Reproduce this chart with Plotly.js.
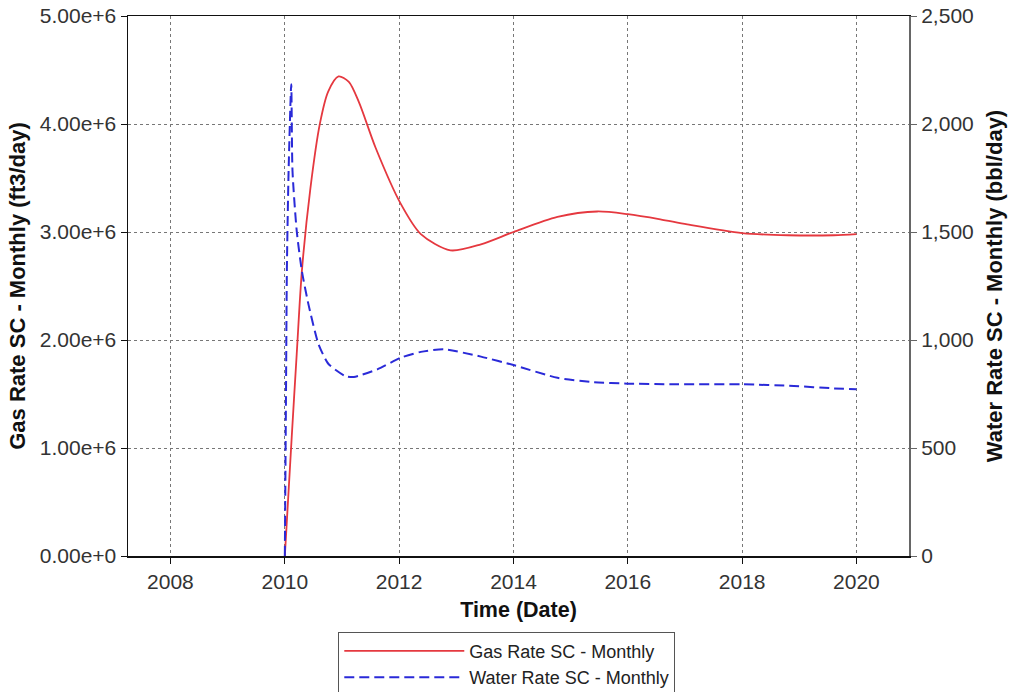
<!DOCTYPE html>
<html>
<head>
<meta charset="utf-8">
<script src="https://cdn.plot.ly/plotly-3.0.1.min.js"></script>
<style>html,body{margin:0;padding:0;background:#fff;}</style>
</head>
<body>
<div id="chart" style="width:1013px;height:692px;"></div>
<script>
const gasDates = ['2010-01-01','2010-02-14','2010-03-18','2010-04-20','2010-06-13','2010-08-14','2010-10-05','2010-12-10','2011-02-14','2011-04-20','2011-08-04','2012-01-12','2012-05-19','2012-11-24','2013-06-07','2014-01-01','2014-10-09','2015-06-20','2016-01-01','2016-07-27','2017-01-15','2018-01-01','2018-10-20','2019-08-11','2020-01-01'];
const gasRate = [0, 1.10e6, 1.87e6, 2.64e6, 3.40e6, 4.01e6, 4.30e6, 4.44e6, 4.39e6, 4.20e6, 3.78e6, 3.26e6, 2.98e6, 2.83e6, 2.886e6, 3.00e6, 3.14e6, 3.19e6, 3.165e6, 3.117e6, 3.07e6, 2.99e6, 2.97e6, 2.97e6, 2.98e6];

const waterDates = ['2010-01-01','2010-01-08','2010-01-14','2010-01-25','2010-02-11','2010-02-19','2010-03-18','2010-04-20','2010-06-01','2010-08-04','2010-10-07','2011-01-23','2011-03-18','2011-08-15','2012-01-12','2012-05-19','2012-10-12','2013-06-07','2014-01-01','2014-10-09','2015-05-27','2016-01-01','2016-10-01','2018-01-01','2018-11-28','2019-08-11','2020-01-01'];
const waterRate = [0, 700, 1320, 1780, 2184, 1782, 1505, 1319, 1165, 981, 889, 833, 829, 864, 918, 945, 957, 923, 884, 825, 805, 798, 795, 795, 787, 776, 772];

const gasName = 'Gas Rate SC - Monthly';
const waterName = 'Water Rate SC - Monthly';
const xTitle = 'Time (Date)';
const yTitle = 'Gas Rate SC - Monthly (ft3/day)';
const y2Title = 'Water Rate SC - Monthly (bbl/day)';

const font = 'Arial, "Liberation Sans", sans-serif';

const traces = [
  {x: gasDates, y: gasRate, name: gasName, type: 'scatter', mode: 'lines',
   line: {color: '#e5383f', width: 1.8, shape: 'spline', smoothing: 0.8}, yaxis: 'y'},
  {x: waterDates, y: waterRate, name: waterName, type: 'scatter', mode: 'lines',
   line: {color: '#2a2ad8', width: 2, dash: '10px,5px', shape: 'spline', smoothing: 0.6}, yaxis: 'y2'}
];

const layout = {
  width: 1013, height: 692,
  margin: {l: 128, r: 104, t: 16, b: 136, autoexpand: false},
  paper_bgcolor: '#fff', plot_bgcolor: '#fff',
  font: {family: font, size: 21, color: '#222'},
  showlegend: true,
  legend: {x: 0.485, xanchor: 'center', y: -0.14, yanchor: 'top',
           bordercolor: '#555', borderwidth: 1, font: {size: 18, color: '#222'},
           tracegroupgap: 0, itemwidth: 120},
  xaxis: {
    type: 'date', range: ['2007-04-05', '2020-12-02'],
    tick0: '2008-01-01', dtick: 'M24', tickformat: '%Y', tickangle: 0,
    showline: true, linecolor: '#111', linewidth: 1.5, mirror: true,
    ticks: 'outside', ticklen: 6, tickcolor: '#111',
    showgrid: true, gridcolor: '#777', griddash: 'dot', gridwidth: 1,
    zeroline: false,
    title: {text: xTitle, font: {size: 21.5, color: '#111', family: font, weight: 'bold'}, standoff: 10},
    tickfont: {size: 21, color: '#333'}
  },
  yaxis: {
    range: [0, 5e6], dtick: 1e6, tickformat: '.2e',
    showline: true, linecolor: '#111', linewidth: 1.5,
    ticks: 'outside', ticklen: 6, tickcolor: '#111',
    showgrid: true, gridcolor: '#777', griddash: 'dot', gridwidth: 1,
    zeroline: false,
    title: {text: yTitle, font: {size: 22, color: '#111', family: font, weight: 'bold'}, standoff: 8},
    tickfont: {size: 21, color: '#333'}
  },
  yaxis2: {
    overlaying: 'y', side: 'right', range: [0, 2500], dtick: 500, tickformat: ',',
    showline: true, linecolor: '#666', linewidth: 2,
    ticks: 'outside', ticklen: 6, tickcolor: '#666',
    showgrid: false, zeroline: false,
    title: {text: y2Title, font: {size: 22, color: '#111', family: font, weight: 'bold'}, standoff: 14},
    tickfont: {size: 21, color: '#333'}
  }
};

Plotly.newPlot('chart', traces, layout, {displayModeBar: false, staticPlot: true});
</script>
</body>
</html>
